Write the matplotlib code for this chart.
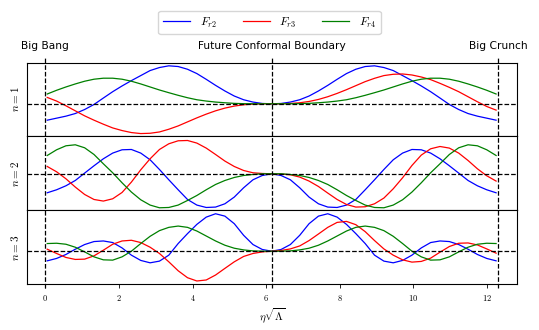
import numpy as np
import matplotlib
matplotlib.use('Agg')
import matplotlib.pyplot as plt
from matplotlib.lines import Line2D
from matplotlib.ticker import FuncFormatter
from matplotlib.transforms import blended_transform_factory

plt.rcParams['mathtext.fontset'] = 'cm'

# eixo do tempo conforme (eta*sqrt(Lambda)), amostras
eta = np.linspace(0.05, 12.25, 49)
eta_fcb = 6.15
eta_crunch = 12.3

# n = 1
fr2_n1 = [-16.3, -14.3, -12.3, -9.7, -5.7, -0.7, 5.7, 12.0, 17.7, 23.0, 28.0, 33.0, 36.0, 37.7, 37.0, 34.3,
          30.0, 24.3, 18.3, 12.7, 7.7, 4.0, 1.7, 0.3, 0.0,
          0.3, 1.7, 4.0, 7.7, 12.7, 18.3, 24.3, 30.0, 34.3, 37.0, 37.7, 36.0, 33.0, 28.0, 23.0, 17.7,
          12.0, 5.7, -0.7, -5.7, -9.7, -12.3, -14.3, -16.3]
fr3_n1 = [6.3, 2.7, -2.0, -7.0, -12.0, -16.3, -20.3, -24.0, -26.6, -28.6, -29.6, -29.3, -28.0, -25.3, -22.0,
          -18.0, -14.0, -10.3, -7.0, -4.3, -2.3, -1.0, -0.3, 0.0, 0.0,
          0.0, 0.3, 1.0, 2.3, 4.3, 7.0, 10.3, 14.0, 18.0, 22.0, 25.3, 28.0, 29.3, 29.6, 28.6, 26.6, 24.0,
          20.3, 16.3, 12.0, 7.0, 2.0, -2.7, -6.3]
fr4_n1 = [9.7, 13.4, 16.7, 19.7, 22.4, 24.4, 25.4, 25.4, 24.4, 22.4, 19.7, 16.7, 13.7, 11.0, 8.4, 6.0, 4.0,
          2.7, 1.7, 1.0, 0.4, 0.1, 0.0, 0.0, 0.0,
          0.0, 0.0, 0.1, 0.4, 1.0, 1.7, 2.7, 4.0, 6.0, 8.4, 11.0, 13.7, 16.7, 19.7, 22.4, 24.4, 25.4, 25.4,
          24.4, 22.4, 19.7, 16.7, 13.4, 9.7]

# n = 2
fr2_n2 = [-19.0, -16.0, -12.0, -6.7, 0.7, 8.0, 15.0, 20.7, 24.0, 24.3, 20.7, 14.0, 4.3, -6.0, -16.0, -25.7,
          -31.3, -33.7, -33.3, -30.0, -23.3, -14.0, -6.0, -1.7, 0.0,
          -1.7, -6.0, -14.0, -23.3, -30.0, -33.3, -33.7, -31.3, -25.7, -16.0, -6.0, 4.3, 14.0, 20.7, 24.3,
          24.0, 20.7, 15.0, 8.0, 0.7, -6.7, -12.0, -16.0, -19.0]
fr3_n2 = [7.3, 2.0, -5.0, -13.3, -20.7, -25.7, -27.3, -25.0, -18.7, -8.3, 4.0, 15.0, 24.3, 30.0, 33.0, 33.3,
          30.7, 25.7, 19.3, 12.7, 7.3, 3.3, 1.0, 0.3, 0.0,
          -0.3, -1.0, -3.3, -7.3, -12.7, -19.3, -25.7, -30.7, -33.3, -33.0, -30.0, -24.3, -15.0, -4.0, 8.3,
          18.7, 25.0, 27.3, 25.7, 20.7, 13.3, 5.0, -2.0, -7.3]
fr4_n2 = [18.3, 24.0, 28.0, 29.0, 26.0, 19.3, 10.0, 1.0, -9.0, -18.3, -26.0, -31.3, -34.0, -33.7, -31.3,
          -26.7, -21.7, -16.0, -10.7, -6.7, -3.7, -1.7, -0.7, 0.0, 0.0,
          0.0, -0.7, -1.7, -3.7, -6.7, -10.7, -16.0, -21.7, -26.7, -31.3, -33.7, -34.0, -31.3, -26.0, -18.3,
          -9.0, 1.0, 10.0, 19.3, 26.0, 29.0, 28.0, 24.0, 18.3]

# n = 3
fr2_n3 = [-9.7, -7.3, -3.3, 2.0, 6.7, 9.7, 10.3, 8.7, 3.3, -4.0, -9.3, -11.7, -10.0, -4.0, 7.7, 17.7, 27.0,
          34.3, 37.7, 35.3, 27.7, 16.0, 6.7, 1.7, 0.0,
          1.7, 6.7, 16.0, 27.7, 35.3, 37.7, 34.3, 27.0, 17.7, 7.7, -4.0, -10.0, -11.7, -9.3, -4.0, 3.3, 8.7,
          10.3, 9.7, 6.7, 2.0, -3.3, -7.3, -9.7]
fr3_n3 = [2.0, -2.3, -6.3, -8.3, -8.0, -4.7, 1.0, 7.0, 10.3, 11.0, 8.7, 4.0, -2.3, -10.7, -19.7, -26.7, -30.0,
          -29.0, -24.0, -17.3, -10.7, -5.3, -2.3, -0.7, 0.0,
          0.7, 2.3, 5.3, 10.7, 17.3, 24.0, 29.0, 30.0, 26.7, 19.7, 10.7, 2.3, -4.0, -8.7, -11.0, -10.3, -7.0,
          -1.0, 4.7, 8.0, 8.3, 6.3, 2.3, -2.0]
fr4_n3 = [7.7, 8.0, 7.0, 4.0, -0.7, -5.7, -8.7, -9.0, -5.7, 0.0, 7.7, 15.0, 20.7, 24.0, 25.3, 24.0, 20.3,
          15.3, 10.3, 6.0, 3.0, 1.3, 0.3, 0.0, 0.0,
          0.0, 0.3, 1.3, 3.0, 6.0, 10.3, 15.3, 20.3, 24.0, 25.3, 24.0, 20.7, 15.0, 7.7, 0.0, -5.7, -9.0,
          -8.7, -5.7, -0.7, 4.0, 7.0, 8.0, 7.7]

painel = [
    ('$n = 1$', fr2_n1, fr3_n1, fr4_n1, (-32.5, 41.0)),
    ('$n = 2$', fr2_n2, fr3_n2, fr4_n2, (-36.7, 37.3)),
    ('$n = 3$', fr2_n3, fr3_n3, fr4_n3, (-33.5, 41.0)),
]

fig, axes = plt.subplots(3, 1, sharex=True, figsize=(5.39, 3.30), dpi=100)
plt.subplots_adjust(left=0.0501, right=0.960, bottom=0.138, top=0.8106, hspace=0)

for ax, (rotulo, f2, f3, f4, lim) in zip(axes, painel):
    ax.plot(eta, f2, color='blue', lw=0.9, label='$F_{r2}$')
    ax.plot(eta, f3, color='red', lw=0.9, label='$F_{r3}$')
    ax.plot(eta, f4, color='green', lw=0.9, label='$F_{r4}$')
    ax.axhline(0, color='k', ls='--', lw=0.9)
    ax.set_ylim(*lim)
    ax.set_yticks([])
    ax.set_ylabel(rotulo, fontsize=8, labelpad=4)
    ax.tick_params(axis='x', length=0)

axes[0].set_xlim(-0.5, 12.83)
axes[2].set_xticks([0, 2, 4, 6, 8, 10, 12])
axes[2].xaxis.set_major_formatter(FuncFormatter(lambda v, p: '$%d$' % v))
axes[2].tick_params(axis='x', length=3, width=0.6, labelsize=6)
axes[2].set_xlabel(r'$\eta\sqrt{\Lambda}$', fontsize=8, labelpad=2)

# linhas verticais: Big Bang, fronteira conforme futura, Big Crunch
trans = blended_transform_factory(axes[2].transData, fig.transFigure)
for xv in [0, eta_fcb, eta_crunch]:
    fig.add_artist(Line2D([xv, xv], [1 - 288 / 330, 1 - 58 / 330], transform=trans,
                          color='k', ls='--', lw=0.9))

trans_top = blended_transform_factory(axes[0].transData, axes[0].transAxes)
for xv, txt in [(0, 'Big Bang'), (eta_fcb, 'Future Conformal Boundary'), (eta_crunch, 'Big Crunch')]:
    axes[0].text(xv, 1.22, txt, transform=trans_top, ha='center', va='center', fontsize=7.7)

handles, labels = axes[0].get_legend_handles_labels()
fig.legend(handles, labels, loc='upper center', ncol=3, fontsize=8.5,
           bbox_to_anchor=(0.5, 0.985), handlelength=2.3, columnspacing=2.2)

plt.savefig('out.png', dpi=100)
